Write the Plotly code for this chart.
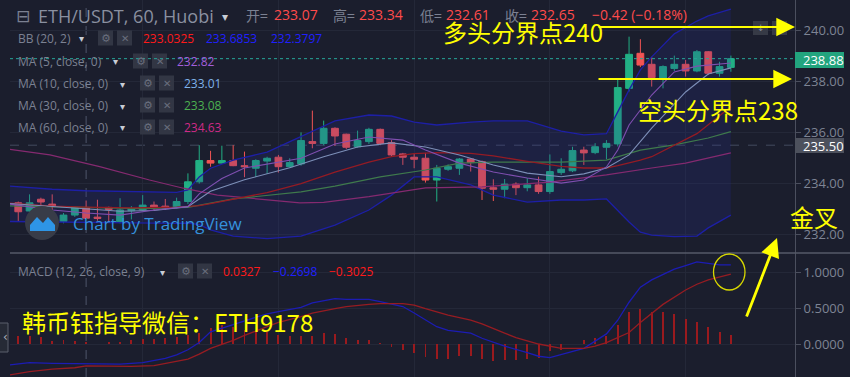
import plotly.graph_objects as go

W, H = 850, 377
BG = "#1b1e2d"
GRID = "#242838"
AXC = "#4b4f5e"
TXT = "#7b8192"
UP = "#22b084"
DN = "#f25454"
YEL = "#ffff00"

# ---------------- data ----------------
idx = list(range(64))
opens = [233.25, 232.93, 233.39, 233.20, 232.52, 232.77, 233.07, 232.69, 233.07, 232.51,
         232.94, 232.97, 233.16, 233.12, 233.07, 233.30, 234.07, 234.90, 234.80, 234.90,
         234.70, 234.60, 234.88, 235.03, 234.66, 234.77, 235.64, 235.57, 236.16, 235.93,
         235.44, 235.64, 236.12, 235.60, 235.16, 235.03, 234.99, 234.14, 234.56, 234.60,
         234.96, 234.86, 233.84, 233.78, 233.98, 233.84, 233.95, 233.69, 234.43, 234.50,
         235.31, 235.21, 235.42, 235.55, 237.72, 239.09, 238.66, 238.11, 238.50, 238.66,
         238.40, 239.15, 238.31, 238.54]
highs = [233.30, 233.58, 233.45, 233.58, 232.85, 233.10, 233.34, 233.37, 233.10, 233.43,
         233.12, 233.55, 233.30, 233.40, 233.45, 234.40, 235.50, 235.28, 235.48, 235.50,
         235.25, 234.95, 235.05, 235.12, 234.99, 236.00, 236.85, 236.46, 236.20, 235.95,
         236.07, 236.18, 236.15, 235.70, 235.20, 235.18, 235.20, 234.73, 234.75, 235.00,
         235.00, 234.90, 234.17, 234.18, 234.05, 234.22, 234.27, 235.14, 234.99, 235.44,
         235.44, 235.58, 235.70, 238.07, 239.74, 239.64, 238.95, 238.62, 239.00, 238.83,
         239.22, 239.18, 238.76, 239.00]
lows = [232.50, 232.90, 233.12, 232.78, 232.45, 232.70, 232.61, 232.55, 232.50, 232.45,
        232.60, 232.95, 232.95, 232.97, 233.03, 233.20, 234.00, 234.66, 234.78, 234.68,
        234.25, 234.25, 234.38, 234.43, 234.62, 234.70, 235.38, 235.50, 235.47, 235.35,
        235.40, 235.55, 235.50, 235.05, 234.73, 234.60, 234.04, 233.30, 234.50, 234.34,
        234.47, 233.36, 233.32, 233.43, 233.55, 233.70, 233.60, 233.60, 234.34, 234.45,
        234.73, 235.15, 234.95, 235.45, 237.60, 238.55, 237.79, 237.72, 238.40, 238.18,
        238.35, 238.24, 238.18, 238.37]
closes = [232.90, 233.25, 233.28, 233.10, 232.77, 233.07, 232.65, 232.64, 232.99, 232.97,
          233.03, 233.16, 233.07, 233.05, 233.30, 234.07, 234.90, 234.80, 234.90, 234.70,
          234.66, 234.90, 234.99, 234.66, 234.82, 235.68, 235.57, 236.16, 235.86, 235.42,
          235.68, 236.12, 235.57, 235.12, 235.03, 234.95, 234.14, 234.60, 234.66, 234.96,
          234.82, 233.82, 233.78, 233.98, 233.84, 233.95, 233.69, 234.47, 234.56, 235.29,
          235.20, 235.44, 235.57, 237.75, 239.05, 238.63, 238.14, 238.57, 238.66, 238.40,
          239.15, 238.31, 238.57, 238.88]

# Bollinger bands (20, 2)
bb_x = [-0.73, 3, 6, 10, 14, 15, 16, 17, 19, 22, 25, 28, 31, 33, 35, 37, 40, 42, 45, 48, 50,
        52, 53, 54, 55, 56, 58, 60, 61, 62, 63]
bb_upper = [233.90, 233.78, 233.72, 233.68, 233.66, 233.75, 234.26, 234.60, 234.92, 235.23,
            235.83, 236.45, 236.68, 236.64, 236.40, 236.29, 236.40, 236.45, 236.45, 236.05,
            235.90, 235.95, 236.80, 237.66, 238.44, 238.95, 239.85, 240.35, 240.55, 240.70,
            240.82]
bb_lower = [232.52, 232.50, 232.47, 232.45, 232.45, 232.46, 232.40, 232.19, 231.95, 231.85,
            231.95, 232.38, 232.97, 233.55, 234.26, 234.26, 233.95, 233.55, 233.28, 233.36,
            233.36, 233.40, 232.93, 232.50, 232.10, 231.99, 231.93, 231.95, 232.27, 232.51,
            232.77]
bb_mid = [233.24, 233.12, 233.08, 233.05, 233.08, 233.10, 233.14, 233.22, 233.38, 233.65,
          234.00, 234.45, 234.84, 235.05, 235.17, 235.21, 235.18, 235.08, 234.87, 234.67,
          234.61, 234.61, 234.70, 234.80, 234.92, 235.05, 235.50, 235.95, 236.30, 236.65,
          237.00]

ma5_x = [-0.73, 3, 6, 9, 12, 14, 15, 16, 18, 20, 23, 25, 28, 31, 34, 36, 39, 42, 45, 48,
         50, 52, 53, 54, 56, 58, 60, 63]
ma5_y = [233.20, 232.97, 232.85, 232.77, 232.97, 233.05, 233.10, 233.60, 234.20, 234.61,
         234.85, 234.99, 235.55, 235.82, 235.70, 235.31, 234.80, 234.45, 234.22, 234.02,
         234.14, 234.65, 235.31, 236.29, 237.46, 238.36, 238.59, 238.71]

ma10_x = [-0.73, 3, 6, 9, 12, 15, 17, 20, 24, 27, 30, 33, 36, 39, 42, 45, 48, 50, 52, 54,
          56, 59, 61, 63]
ma10_y = [233.22, 233.10, 233.01, 232.92, 232.95, 233.10, 233.70, 234.15, 234.62, 235.05,
          235.43, 235.59, 235.43, 235.12, 234.73, 234.41, 234.27, 234.38, 234.61, 235.12,
          236.17, 237.58, 238.28, 238.52]

ma30_x = [-0.73, 6, 11, 15, 19, 25, 28, 32, 36, 39, 42, 48, 52, 55, 58, 61, 63]
ma30_y = [233.13, 233.08, 233.02, 233.07, 233.40, 233.68, 233.90, 234.26, 234.53, 234.80,
          234.84, 234.84, 234.92, 235.31, 235.51, 235.78, 236.03]

ma60_x = [-0.73, 2.8, 7.2, 11.6, 14.6, 17.6, 20.5, 24.9, 27, 31, 36, 41, 47, 52, 56, 59, 63]
ma60_y = [235.34, 235.12, 234.66, 234.14, 233.82, 233.55, 233.43, 233.25, 233.27, 233.49,
          233.83, 233.87, 234.06, 234.34, 234.61, 234.80, 235.20]

macd_x = [-0.73, 1, 3, 6, 9, 11, 13, 14, 15, 16, 17, 19, 20, 22, 23, 25, 26, 28, 29, 31,
          32, 34, 35, 36, 37, 38, 40, 41, 43, 45, 46, 47, 48, 50, 52, 53, 54, 55, 56, 57,
          58, 59, 60, 61, 62, 63]
macd_y = [-0.29, -0.26, -0.27, -0.2698, -0.28, -0.26, -0.20, -0.15, -0.08, 0.02, 0.17, 0.27,
          0.32, 0.42, 0.45, 0.51, 0.57, 0.63, 0.62, 0.62, 0.59, 0.52, 0.43, 0.33, 0.24, 0.19,
          0.15, 0.08, -0.03, -0.12, -0.17, -0.19, -0.15, -0.06, 0.14, 0.33, 0.58, 0.79, 0.89,
          0.97, 1.04, 1.09, 1.14, 1.12, 1.10, 1.10]

sig_x = [-0.73, 1, 3, 5, 6, 8, 10, 12, 13, 15, 16, 17, 19, 20, 22, 23, 25, 26, 28, 29, 31,
         32, 34, 35, 36, 38, 40, 41, 43, 44, 46, 48, 50, 51, 52, 54, 55, 56, 57, 59, 60, 61, 63]
sig_y = [-0.43, -0.385, -0.35, -0.33, -0.3025, -0.31, -0.31, -0.30, -0.27, -0.21, -0.14,
         -0.06, 0.05, 0.12, 0.24, 0.30, 0.38, 0.43, 0.49, 0.52, 0.55, 0.56, 0.56, 0.54, 0.49,
         0.40, 0.33, 0.28, 0.15, 0.09, 0.00, -0.06, -0.06, -0.03, 0.02, 0.16, 0.30, 0.43,
         0.55, 0.75, 0.83, 0.89, 0.97]

hist = [0.116, 0.116, 0.097, 0.037, 0.05, 0.037, 0.0327, 0.005, 0.023, 0.023,
        0.05, 0.07, 0.07, 0.083, 0.097, 0.13, 0.153, 0.222, 0.269, 0.236,
        0.19, 0.162, 0.162, 0.13, 0.106, 0.116, 0.116, 0.153, 0.144, 0.083,
        0.06, 0.06, 0.014, -0.042, -0.088, -0.125, -0.18, -0.21, -0.21, -0.17,
        -0.16, -0.21, -0.24, -0.22, -0.22, -0.21, -0.19, -0.10, -0.08, 0.0,
        0.05, 0.083, 0.116, 0.27, 0.44, 0.486, 0.45, 0.44, 0.41, 0.35,
        0.31, 0.236, 0.16, 0.13]

price_ticks = [232, 234, 236, 238, 240]
macd_ticks = [0.0, 0.5, 1.0]
last_price = 238.88
cross_price = 235.50
cross_idx = 6
bull_level, bear_level = 240, 238

# ---------------- geometry helpers (pixel -> paper) ----------------
def X(p):
    return p / W

def Y(p):
    return 1 - p / H

SEP = 253  # pane separator (px)
p_top, p_bot = 240 + 30 / 25.6, 240 - (SEP - 30) / 25.6
m_top, m_bot = (344 - SEP) / 72, (344 - H) / 72

fig = go.Figure()

# BB fill + lines
fig.add_trace(go.Scatter(x=bb_x, y=bb_lower, mode="lines", line=dict(color="#1d1fa6", width=1.3),
                         hoverinfo="skip"))
fig.add_trace(go.Scatter(x=bb_x, y=bb_upper, mode="lines", line=dict(color="#1d1fa6", width=1.3),
                         fill="tonexty", fillcolor="rgba(40,44,150,0.20)", hoverinfo="skip"))
fig.add_trace(go.Scatter(x=ma60_x, y=ma60_y, mode="lines", line=dict(color="#852a70", width=1.2),
                         hoverinfo="skip"))
fig.add_trace(go.Scatter(x=ma30_x, y=ma30_y, mode="lines", line=dict(color="#3f7a4c", width=1.2),
                         hoverinfo="skip"))
fig.add_trace(go.Scatter(x=bb_x, y=bb_mid, mode="lines", line=dict(color="#941b24", width=1.3),
                         hoverinfo="skip"))
fig.add_trace(go.Scatter(x=ma10_x, y=ma10_y, mode="lines", line=dict(color="#7d8fb8", width=1.1),
                         hoverinfo="skip"))
fig.add_trace(go.Scatter(x=ma5_x, y=ma5_y, mode="lines", line=dict(color="#7f4fb0", width=1.1),
                         hoverinfo="skip"))

fig.add_trace(go.Candlestick(
    x=idx, open=opens, high=highs, low=lows, close=closes,
    increasing=dict(line=dict(color=UP, width=1), fillcolor=UP),
    decreasing=dict(line=dict(color=DN, width=1), fillcolor=DN),
    whiskerwidth=0, hoverinfo="skip"))

# MACD pane
fig.add_trace(go.Bar(x=idx, y=hist, width=0.17, marker=dict(color="#9a1a1e", line=dict(width=0)),
                     yaxis="y2", hoverinfo="skip"))
fig.add_trace(go.Scatter(x=macd_x, y=macd_y, mode="lines", line=dict(color="#1c1cb4", width=1.3),
                         yaxis="y2", hoverinfo="skip"))
fig.add_trace(go.Scatter(x=sig_x, y=sig_y, mode="lines", line=dict(color="#961c22", width=1.3),
                         yaxis="y2", hoverinfo="skip"))

annotations = []
shapes = []


def label(x, y, s, color, size=12, family="Open Sans", anchor="left", bg=None):
    d = dict(x=X(x), y=Y(y), xref="paper", yref="paper", text=s, showarrow=False,
             xanchor=anchor, yanchor="middle", borderpad=0,
             font=dict(color=color, size=size, family=family))
    if bg:
        d["bgcolor"] = bg
    annotations.append(d)


def rect(x0, y0, x1, y1, fill, line=None):
    shapes.append(dict(type="rect", xref="paper", yref="paper", x0=X(x0), x1=X(x1),
                       y0=Y(y1), y1=Y(y0), fillcolor=fill,
                       line=dict(width=1 if line else 0, color=line or fill), layer="above"))


def icons(x, y):
    rect(x, y - 7.5, x + 15, y + 7.5, "#323644")
    rect(x + 19, y - 7.5, x + 34, y + 7.5, "#323644")
    label(x + 7.5, y, "⚙", "#696e7d", 11, "DejaVu Sans", "center")
    label(x + 26.5, y, "✕", "#696e7d", 10, "DejaVu Sans", "center")


def arrow(x_head, y_head, x_tail, y_tail, width, size):
    annotations.append(dict(x=X(x_head), y=Y(y_head), xref="paper", yref="paper",
                            ax=x_tail - x_head, ay=y_tail - y_head, text="", showarrow=True,
                            arrowhead=2, arrowsize=size, arrowwidth=width, arrowcolor=YEL))


CJK = "Noto Sans CJK SC"

# header
label(15, 16, "⊟", TXT, 17, "DejaVu Sans")
label(37, 16, "ETH/USDT, 60, Huobi", "#8a90a0", 18)
label(221, 17, "▾", "#c9cdd6", 12, "DejaVu Sans")
red = "#ff4b4b"
for x, s, c in [(245, "开=", TXT), (273, "233.07", red), (332, "高=", TXT), (358, "233.34", red),
                (419, "低=", TXT), (445, "232.61", red), (504, "收=", TXT), (530, "232.65", red),
                (591, "−0.42 (−0.18%)", red)]:
    label(x, 15, s, c, 14, CJK if s.endswith("=") else "Open Sans")

# legend rows
label(17, 38, "BB (20, 2)", TXT)
label(78, 39, "▾", "#c9cdd6", 10, "DejaVu Sans")
icons(98, 38)
label(142, 38, "233.0325", "#ff1a1a")
label(205, 38, "233.6853", "#2020ff")
label(270, 38, "232.3797", "#2020ff")

label(17, 61, "MA (5, close, 0)", TXT)
label(112, 62, "▾", "#c9cdd6", 10, "DejaVu Sans")
icons(133, 61)
label(176, 61, "232.82", "#a35fdc")

for y, s in [(83, "MA (10, close, 0)"), (105, "MA (30, close, 0)"), (127, "MA (60, close, 0)")]:
    label(17, y, s, TXT)
    label(119, y + 1, "▾", "#c9cdd6", 10, "DejaVu Sans")
    icons(140, y)
label(183, 83, "233.01", "#7fb2ea")
label(183, 105, "233.08", "#4cb050")
label(183, 127, "234.63", "#d02a86")

label(17, 271, "MACD (12, 26, close, 9)", TXT)
label(159, 272, "▾", "#c9cdd6", 10, "DejaVu Sans")
icons(178, 271)
label(222, 271, "0.0327", "#ff1a1a")
label(272, 271, "−0.2698", "#2020ff")
label(328, 271, "−0.3025", "#ff1a1a")

# TradingView watermark
shapes.append(dict(type="circle", xref="paper", yref="paper", x0=X(25), x1=X(59), y0=Y(240),
                   y1=Y(206), fillcolor="#383c48", line=dict(width=0), layer="above"))
pts = [(30, 231), (30, 225), (37, 217), (43, 223), (48, 217), (55, 225), (55, 231)]
path = "M " + " L ".join(f"{X(a):.5f},{Y(b):.5f}" for a, b in pts) + " Z"
shapes.append(dict(type="path", xref="paper", yref="paper", path=path, fillcolor="#2e95e6",
                   line=dict(width=0), layer="above"))
label(72, 223, "Chart by TradingView", "#3591dc", 17)

# price-scale boxes
rect(795, 52, 844, 68, "#22a47e")
label(802, 60, "238.88", "#ffffff", 13)
rect(795, 138, 844, 153, "#4d515d")
label(802, 145.5, "235.50", "#ffffff", 13)
label(802, 381, "−0.5000", "#7e8494", 13)

# top-right small buttons
rect(753, 21, 768, 35, "#363a46")
rect(772, 21, 787, 35, "#363a46")
label(760.5, 28, "↓", "#858a98", 9, "DejaVu Sans", "center")
label(779.5, 28, "↓", "#858a98", 9, "DejaVu Sans", "center")

# left tab
shapes.append(dict(type="rect", xref="paper", yref="paper", x0=X(-4), x1=X(8), y0=Y(352),
                   y1=Y(323), fillcolor="#262a36", line=dict(color="#5a5f6d", width=1),
                   layer="above"))
label(2, 337, "‹", "#aab0bd", 12, "DejaVu Sans")

# pane separator & crosshair & last price line
shapes.append(dict(type="line", xref="paper", yref="paper", x0=X(10), x1=1, y0=Y(SEP), y1=Y(SEP),
                   line=dict(color="#565a69", width=1.5)))
shapes.append(dict(type="line", xref="x", yref="paper", x0=cross_idx, x1=cross_idx, y0=0, y1=1,
                   line=dict(color="#4f566b", width=1, dash="dash"), layer="below"))
shapes.append(dict(type="line", xref="paper", yref="y", x0=X(10), x1=X(795), y0=cross_price,
                   y1=cross_price, line=dict(color="#434a5e", width=1, dash="dash"),
                   layer="below"))
shapes.append(dict(type="line", xref="paper", yref="y", x0=X(10), x1=X(795), y0=last_price,
                   y1=last_price, line=dict(color="#26a69a", width=1, dash="dot")))

# yellow commentary
label(442, 32, f"多头分界点{bull_level}", YEL, 24, CJK)
label(637, 110, f"空头分界点{bear_level}", YEL, 24, CJK)
label(789, 216, "金叉", YEL, 24, CJK)
label(21, 321, "韩币钰指导微信：ETH9178", YEL, 24, CJK)

arrow(795, 27, 597, 27, 2.2, 1.7)
arrow(792, 79, 597, 79, 2.2, 1.7)
arrow(777, 238, 746, 318, 2.8, 1.35)
shapes.append(dict(type="circle", xref="paper", yref="paper", x0=X(713.5), x1=X(745),
                   y0=Y(290), y1=Y(254), line=dict(color="#d8d800", width=1.3), layer="above"))

axis_font = dict(color="#7e8494", size=13, family="Open Sans")
fig.update_layout(
    width=W, height=H, margin=dict(l=0, r=0, t=0, b=0),
    paper_bgcolor=BG, plot_bgcolor=BG, showlegend=False, hovermode=False, dragmode=False,
    boxgap=0.4, boxgroupgap=0,
    bargap=0,
    xaxis=dict(domain=[X(10), X(795)], range=[-0.73, 68.67], showticklabels=False,
               tickvals=[11, 23, 35, 47, 59], showgrid=True, gridcolor=GRID, zeroline=False,
               ticks="", rangeslider=dict(visible=False), fixedrange=True),
    yaxis=dict(domain=[Y(SEP), 1], range=[p_bot, p_top], side="right", tickvals=price_ticks,
               tickformat=".2f", ticks="outside", ticklen=5, tickcolor=AXC, showline=True,
               linecolor=AXC, linewidth=1, gridcolor=GRID, zeroline=False, tickfont=axis_font,
               automargin=False, fixedrange=True),
    yaxis2=dict(domain=[0, Y(SEP)], range=[m_bot, m_top], side="right", anchor="x",
                tickvals=macd_ticks, tickformat=".4f", ticks="outside", ticklen=5, tickcolor=AXC,
                showline=True, linecolor=AXC, linewidth=1, gridcolor=GRID, zeroline=False,
                tickfont=axis_font, automargin=False, fixedrange=True),
    annotations=annotations, shapes=shapes,
)

fig.write_html(
    "out.html",
    config={"displayModeBar": False, "staticPlot": True},
    post_script=f"document.body.style.margin='0';document.body.style.overflow='hidden';"
                f"document.body.style.background='{BG}';",
)
